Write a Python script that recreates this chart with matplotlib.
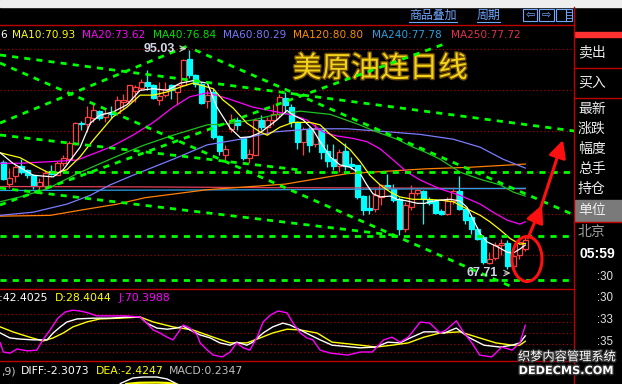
import matplotlib
matplotlib.use('Agg')
import matplotlib.pyplot as plt
import matplotlib.patheffects as pe
from matplotlib.patches import Rectangle, Ellipse, FancyArrowPatch
import numpy as np

# daily candles (index 0 = leftmost)
opens = [81.0, 78.3, 79.3, 80.6, 80.0, 79.4, 78.1, 78.1, 79.9, 79.4,
         80.9, 81.4, 83.3, 85.9, 85.8, 86.5, 87.4, 86.7, 87.2, 87.2,
         88.6, 88.7, 89.9, 90.3, 91.0, 90.7, 88.8, 89.4, 90.7, 89.8,
         90.7, 93.9, 91.9, 90.8, 88.7, 89.8, 84.3, 81.9, 85.2, 86.3,
         84.0, 81.5, 81.9, 86.3, 85.4, 86.3, 87.0, 89.0, 87.9, 86.0,
         83.5, 85.2, 83.3, 85.0, 82.4, 81.4, 80.5, 82.4, 80.8, 80.7,
         76.8, 75.3, 75.2, 76.7, 78.2, 77.7, 76.4, 72.7, 75.4, 77.2,
         77.4, 76.4, 76.2, 74.9, 74.6, 76.2, 77.4, 75.2, 74.2, 72.7,
         71.7, 68.5, 69.1, 70.7, 70.9, 68.1, 69.4, 70.2]
highs = [81.3, 80.3, 80.7, 81.4, 80.2, 79.6, 79.0, 80.0, 80.7, 81.2,
         81.9, 83.7, 86.0, 86.2, 88.0, 88.3, 87.5, 87.8, 88.0, 89.3,
         89.5, 90.7, 90.7, 91.4, 92.5, 90.8, 91.0, 91.0, 90.8, 90.8,
         93.9, 95.03, 92.0, 91.0, 90.0, 90.2, 84.4, 83.2, 87.0, 86.7,
         84.2, 82.7, 86.5, 86.9, 86.7, 88.3, 89.5, 89.8, 88.3, 86.2,
         85.4, 85.4, 85.8, 85.2, 83.3, 83.3, 82.7, 83.4, 81.7, 80.7,
         77.0, 76.9, 77.7, 78.3, 79.6, 78.3, 76.7, 76.1, 78.2, 77.7,
         77.6, 76.7, 76.4, 75.2, 76.7, 77.7, 79.3, 75.2, 74.4, 73.0,
         71.9, 69.8, 71.1, 71.4, 71.3, 69.6, 71.9, 72.0]
lows = [78.8, 77.8, 78.6, 79.6, 79.1, 77.7, 77.3, 77.7, 79.4, 79.4,
        80.5, 81.3, 83.2, 85.0, 84.8, 86.0, 86.3, 86.1, 86.5, 86.9,
        87.7, 88.3, 88.5, 90.0, 90.1, 88.9, 88.2, 89.2, 88.9, 88.2,
        90.7, 91.6, 90.4, 88.3, 87.8, 83.9, 81.9, 81.3, 84.8, 85.0,
        81.3, 80.9, 81.9, 85.0, 84.4, 85.7, 86.7, 87.0, 85.4, 82.7,
        81.9, 82.3, 82.9, 81.4, 80.4, 80.0, 79.8, 80.0, 80.2, 76.4,
        74.4, 74.6, 74.8, 75.7, 77.6, 76.1, 71.9, 72.3, 75.1, 76.9,
        73.3, 75.7, 74.6, 74.4, 74.4, 75.8, 75.1, 73.3, 72.1, 71.3,
        68.3, 68.3, 68.8, 69.4, 67.71, 67.9, 69.0, 70.0]
closes = [78.9, 79.0, 80.4, 79.8, 79.4, 78.1, 78.6, 79.7, 79.5, 80.9,
          81.5, 83.4, 85.9, 85.8, 86.7, 87.5, 86.5, 87.2, 87.1, 88.8,
          88.8, 90.7, 90.4, 91.0, 90.5, 89.0, 89.3, 90.2, 90.0, 90.7,
          93.8, 91.9, 90.8, 88.4, 89.4, 84.2, 82.4, 82.7, 86.3, 85.7,
          81.5, 82.0, 86.3, 85.4, 86.3, 87.0, 89.2, 88.2, 86.0, 83.5,
          85.2, 83.2, 85.2, 82.3, 81.2, 80.5, 82.3, 80.5, 80.5, 76.7,
          75.1, 75.1, 76.9, 78.2, 77.8, 76.3, 72.7, 75.7, 77.2, 77.6,
          76.4, 75.9, 74.7, 74.6, 76.2, 77.4, 75.2, 73.8, 72.7, 71.5,
          68.6, 69.0, 70.7, 70.9, 68.1, 69.3, 71.1, 71.3]

# moving average lines, sampled along the picture (x = candle index)
ma5_x = [-0.5, 1.6, 5.0, 8.3, 10.0, 12.8, 14.5, 16.1, 18.3, 20.6, 22.8, 25.0, 27.3,
         29.5, 31.6, 34.0, 35.6, 37.8, 39.5, 41.1, 42.8, 45.6, 47.3, 48.3, 50.0, 51.6,
         52.8, 54.5, 56.1, 57.8, 59.5, 60.6, 61.6, 62.8, 64.5, 65.6, 67.3, 69.0, 70.3,
         71.1, 72.8, 74.5, 76.1, 77.3, 78.3, 79.5, 80.6, 82.3, 84.0, 85.0, 86.1, 87.0]
ma5_y = [82.2, 80.9, 79.4, 79.2, 80.1, 82.9, 85.9, 86.9, 87.3, 88.2, 90.0, 90.2, 90.0,
         90.9, 91.2, 90.9, 87.9, 85.3, 84.1, 84.2, 84.7, 86.3, 87.5, 86.9, 86.3, 85.1,
         83.6, 81.7, 80.7, 80.4, 79.6, 78.2, 77.1, 76.7, 76.8, 76.4, 76.2, 75.9, 75.9,
         76.1, 76.3, 76.4, 76.2, 75.4, 73.9, 72.1, 71.1, 70.5, 69.8, 69.7, 70.2, 70.7]
ma10_x = [-0.5, 2.8, 5.0, 7.3, 9.0, 10.6, 12.8, 15.0, 18.3, 20.6, 22.8, 25.0, 27.3,
          29.5, 31.6, 35.0, 36.6, 38.3, 40.6, 42.8, 44.0, 46.1, 48.3, 51.1, 52.8, 54.5,
          56.1, 57.8, 59.5, 61.1, 62.8, 64.5, 66.1, 68.3, 70.3, 72.8, 75.0, 77.3, 79.5,
          81.1, 82.8, 84.5, 86.1, 87.0]
ma10_y = [82.2, 81.6, 80.7, 79.8, 79.7, 80.1, 81.7, 83.8, 86.7, 87.9, 89.4, 89.4, 89.8,
          90.4, 90.9, 90.2, 88.8, 87.8, 85.9, 84.8, 84.4, 85.4, 86.0, 86.0, 85.7, 84.5,
          83.6, 82.6, 81.1, 79.4, 78.2, 77.3, 76.7, 76.4, 76.4, 76.3, 76.1, 75.2, 74.4,
          73.6, 72.6, 71.5, 70.8, 70.9]
ma20_x = [-0.5, 2.8, 7.8, 12.3, 17.8, 21.6, 25.0, 28.3, 31.1, 34.0, 37.3, 41.6, 45.6,
          48.3, 50.6, 53.3, 55.6, 58.3, 60.6, 62.8, 65.0, 67.3, 69.5, 72.8, 76.1, 79.5,
          81.6, 84.0, 86.1, 87.0]
ma20_y = [80.9, 80.9, 81.1, 81.3, 82.9, 84.4, 86.0, 87.9, 89.2, 89.7, 89.0, 87.9, 87.3,
          86.9, 86.3, 84.8, 84.3, 84.0, 83.6, 82.7, 81.3, 79.8, 78.8, 77.7, 76.9, 75.8,
          74.8, 73.8, 73.3, 73.6]
ma40_x = [-0.5, 2.8, 7.3, 12.3, 17.8, 21.6, 23.6, 28.3, 34.0, 37.3, 41.6, 45.0, 49.5,
          54.5, 59.0, 62.3, 65.6, 68.3, 70.3, 72.8, 76.1, 79.5, 82.8, 85.0, 87.0]
ma40_y = [76.1, 76.7, 77.7, 79.6, 81.4, 82.6, 83.2, 84.4, 85.7, 85.8, 86.3, 86.9, 87.4,
          87.0, 85.8, 84.8, 83.9, 82.9, 82.3, 81.4, 79.8, 78.9, 78.2, 77.3, 76.8]
ma60_x = [-0.5, 5.0, 10.6, 14.5, 17.8, 21.6, 28.3, 34.0, 39.5, 45.0, 51.6, 57.3, 62.8,
          69.5, 75.0, 79.5, 83.3, 87.0]
ma60_y = [74.4, 74.8, 75.8, 76.9, 78.2, 79.4, 81.4, 83.2, 83.9, 84.8, 85.2, 85.2, 84.9,
          84.5, 83.9, 82.9, 81.4, 80.3]
ma120_x = [-0.5, 7.8, 13.3, 19.0, 23.6, 34.0, 47.0, 57.3, 70.3, 77.8, 87.0]
ma120_y = [74.3, 74.4, 75.1, 75.8, 76.6, 77.6, 78.3, 79.6, 80.2, 80.4, 80.8]
ma240_x = [-0.5, 23.6, 46.1, 70.3, 87.0]
ma240_y = [77.5, 77.55, 77.6, 77.7, 77.78]
ma250_x = [-0.5, 23.6, 46.1, 70.3, 87.0]
ma250_y = [78.0, 77.95, 77.85, 77.8, 77.72]

ma_legend = ['MA10:70.93', 'MA20:73.62', 'MA40:76.84', 'MA60:80.29',
             'MA120:80.80', 'MA240:77.78', 'MA250:77.72']

# KDJ
k_x = [-0.5, 1.1, 2.8, 5.0, 7.3, 8.3, 9.5, 10.6, 12.3, 15.0, 17.8, 20.6, 22.8, 23.9,
       25.6, 27.3, 28.9, 30.0, 31.1, 32.8, 34.5, 36.1, 37.8, 38.9, 40.6, 41.6, 43.3,
       44.9, 46.6, 47.8, 49.5, 51.1, 52.8, 54.8, 59.5, 62.1, 64.1, 66.1, 68.1, 70.1,
       72.1, 73.5, 75.5, 77.5, 80.1, 82.8, 84.8, 86.1, 87.0]
k_v = [50, 37, 34, 32, 32, 50, 66, 79, 87, 89, 89, 92, 92, 76, 63, 60, 63, 68, 58, 45,
       37, 24, 18, 26, 18, 26, 50, 66, 76, 71, 58, 45, 32, 18, 11, 13, 26, 24, 39, 53,
       53, 50, 63, 39, 18, 13, 18, 24, 42.4]
d_x = [-0.5, 1.6, 4.4, 6.6, 8.3, 10.0, 11.6, 13.9, 16.1, 19.4, 22.8, 25.0, 28.3, 31.6,
       35.0, 37.8, 40.6, 42.8, 44.9, 47.3, 49.5, 52.3, 54.8, 59.5, 62.1, 64.8, 67.5,
       70.1, 72.8, 76.1, 79.4, 82.1, 84.8, 86.1, 87.0]
d_v = [66, 53, 39, 29, 37, 50, 66, 79, 87, 89, 92, 79, 66, 58, 39, 24, 24, 37, 50, 60,
       58, 50, 26, 18, 13, 18, 24, 39, 50, 53, 37, 24, 18, 18, 28.4]
j_x = [-0.5, 0.0, 1.1, 2.3, 4.0, 5.6, 6.6, 7.8, 9.1, 10.3, 11.5, 12.8, 14.1, 15.6,
       17.8, 20.3, 22.8, 23.9, 25.0, 26.1, 27.3, 28.3, 29.1, 30.0, 31.1, 32.3, 32.8,
       34.0, 35.0, 36.5, 37.8, 38.9, 40.0, 41.1, 42.3, 43.3, 44.5, 45.8, 47.3, 48.3,
       49.5, 50.6, 51.6, 52.8, 54.5, 57.4, 59.5, 61.5, 63.4, 64.8, 66.1, 67.5, 69.5,
       71.1, 72.8, 73.8, 75.5, 76.8, 78.1, 79.4, 81.4, 83.1, 84.8, 86.1, 87.0]
j_v = [24, 0, -3, 8, 3, 5, 32, 58, 89, 105, 110, 108, 103, 95, 95, 95, 92, 76, 58, 50,
       39, 32, 50, 71, 63, 45, 24, 5, -8, -13, 0, 24, 11, 5, 39, 79, 97, 108, 103, 76,
       50, 37, 32, 5, -3, -8, 0, 0, 32, 39, 26, 39, 79, 76, 50, 58, 82, 50, 24, -8,
       -13, 13, 5, 24, 70.4]
kdj_levels = [100, 80, 50, 20, 0]

# MACD tops just visible at the bottom edge
diff_x = [19.5, 21.6, 23.3, 25.6, 27.3, 28.8]
diff_v = [0.5, 6.0, 7.0, 7.0, 5.0, 0.5]
dea_x = [20.5, 22.5, 25.6, 27.3, 29.0]
dea_v = [0.0, 1.2, 1.4, 1.1, -0.5]

price_grid = [95.1, 90.0, 84.9, 79.8, 74.6, 69.4]

# hand-drawn trend lines (x0, p0, x1, p1)
trend_lines = [(-0.55, 94.41, 95.12, 84.93),
               (-0.55, 85.92, 31.1, 95.65),
               (31.95, 95.03, 95.12, 74.45),
               (-0.55, 75.69, 73.95, 95.9),
               (-0.55, 93.41, 84.45, 65.59),
               (-0.55, 84.43, 49.45, 80.06),
               (-0.55, 77.81, 66.1, 71.83),
               (7.8, 79.81, 95.12, 79.81),
               (-0.55, 71.83, 95.12, 71.83),
               (-0.55, 66.34, 95.12, 66.34)]

panel_labels = ['卖出', '买入', '最新', '涨跌', '幅度', '总手', '持仓', '单位', '北京']
panel_label_y = [52, 83, 109, 129, 149, 169, 189, 210, 232]

W, H = 622, 384
RED = '#c00000'
DOT = '#a00000'
UP = '#ff4040'
DOWN = '#00ffff'
CJK = ['Noto Sans CJK SC', 'DejaVu Sans']


def box(x0, y0, x1, y1):
    return [x0 / W, 1 - y1 / H, (x1 - x0) / W, (y1 - y0) / H]


fig = plt.figure(figsize=(6.22, 3.84), dpi=100, facecolor='black')

bg = fig.add_axes([0, 0, 1, 1])
bg.set_xlim(0, W)
bg.set_ylim(H, 0)
bg.axis('off')

bg.add_patch(Rectangle((0, 0), W, 6.5, color='#eeeeee', zorder=1))
bg.plot([0, 574], [25, 25], color=RED, lw=1)
bg.plot([0, 574], [289, 289], color=RED, lw=1)
bg.plot([0, 574], [360.5, 360.5], color=RED, lw=1)
bg.plot([573.5, 573.5], [7, H], color=RED, lw=1)

# toolbar
bg.text(409, 15.5, '商品叠加', family=CJK, fontsize=8.6, color='#70a8ff', va='center')
bg.plot([409, 457], [21.5, 21.5], color='#70a8ff', lw=0.8)
bg.text(477, 15.5, '周期', family=CJK, fontsize=8.6, color='#70a8ff', va='center')
bg.plot([477, 500], [21.5, 21.5], color='#70a8ff', lw=0.8)
for bx0, bx1 in [(523, 537), (539, 554), (556, 572)]:
    bg.add_patch(Rectangle((bx0, 9), bx1 - bx0, 12, fill=False, ec='#70a8ff', lw=0.8))
bg.text(530, 15, '⇦', fontsize=8, color='#70a8ff', ha='center', va='center')
bg.text(546.5, 15, '⇨', fontsize=8, color='#70a8ff', ha='center', va='center')
bg.plot([566, 566], [9, 21], color='#70a8ff', lw=0.8)
for yy in [12, 15, 18]:
    bg.plot([566, 571], [yy, yy], color='#70a8ff', lw=0.6)

# MA legend
bg.text(0, 35, '6', fontsize=7.6, color='white', va='center')
legend_x = [11.7, 82, 153, 223, 293, 372, 451]
legend_c = ['#ffff00', '#ff00ff', '#00e000', '#7878ff', '#ff8c00', '#28a0e0', '#e03050']
for lx, lt, lc in zip(legend_x, ma_legend, legend_c):
    bg.text(lx, 35, lt, fontsize=7.6, color=lc, va='center')

bg.text(380, 69, '美原油连日线', family=CJK, fontsize=21, color='#f3d21c',
        ha='center', va='center',
        path_effects=[pe.withStroke(linewidth=2, foreground='#6b4a00')])

# right panel
bg.add_patch(Rectangle((575, 32), 47, 5, color='#ff3030'))
for yy in [68, 98, 221.5]:
    bg.plot([574, W], [yy, yy], color=RED, lw=1)
bg.add_patch(Rectangle((574.5, 200), 47.5, 21, color='#7a7a7a'))
for lab, ly in zip(panel_labels, panel_label_y):
    col = '#a0a0a0' if lab == '北京' else '#ececec'
    bg.text(578, ly, lab, family=CJK, fontsize=10, color=col, va='center')
bg.text(579, 254, '05:59', family='Liberation Sans', fontsize=10, fontweight='bold',
        color='white', va='center')
for lab, ly in [(':30', 277), (':30', 298), (':33', 320), (':35', 342)]:
    bg.text(613, ly, lab, family='Liberation Sans', fontsize=8.3, color='#e0e0e0',
            ha='right', va='center')

# KDJ / MACD legends
bg.text(-7, 298, 'K:42.4025', fontsize=7.8, color='white', va='center')
bg.text(55, 298, 'D:28.4044', fontsize=7.8, color='#ffff00', va='center')
bg.text(118, 298, 'J:70.3988', fontsize=7.8, color='#ff00ff', va='center')
bg.text(1, 371, ',9)', fontsize=7.8, color='#c8c8c8', va='center')
bg.text(20.7, 371, 'DIFF:-2.3073', fontsize=7.8, color='white', va='center')
bg.text(95.7, 371, 'DEA:-2.4247', fontsize=7.8, color='#ffff00', va='center')
bg.text(169, 371, 'MACD:0.2347', fontsize=7.8, color='#c0c0c0', va='center')

# main price panel
ax = fig.add_axes(box(0, 42, 574, 289))
ax.set_xlim(-0.55, 95.12)
ax.set_ylim(65.21, 96.03)
ax.axis('off')
for p in price_grid:
    ax.axhline(p, color=DOT, lw=0.9, ls=(0, (1, 2)), zorder=1)

for i, (o, h, l, c) in enumerate(zip(opens, highs, lows, closes)):
    up = c >= o
    col = UP if up else DOWN
    ax.vlines(i, l, h, color=col, lw=0.9, zorder=2)
    ax.add_patch(Rectangle((i - 0.38, min(o, c)), 0.76, max(abs(c - o), 0.08),
                           facecolor='black' if up else col, edgecolor=col,
                           lw=0.9, zorder=2.5))

ma_sets = [(ma250_x, ma250_y, '#e8405a'), (ma240_x, ma240_y, '#2aa0e8'),
           (ma120_x, ma120_y, '#ff8000'), (ma60_x, ma60_y, '#7b7bff'),
           (ma40_x, ma40_y, '#20c020'), (ma20_x, ma20_y, '#ff00ff'),
           (ma10_x, ma10_y, '#ffff00'), (ma5_x, ma5_y, '#ffffff')]
for mx_, my_, mc in ma_sets:
    ax.plot(mx_, my_, color=mc, lw=0.9, zorder=3)

for x0, y0, x1, y1 in trend_lines:
    ax.plot([x0, x1], [y0, y1], color='#00ff00', lw=2.0, ls=(0, (2.2, 2.2)),
            dash_capstyle='butt', zorder=4)

ax.text(28.7, 95.2, '95.03', family='Liberation Sans', fontsize=9, fontweight='bold',
        color='#d0d8e8', ha='right', va='center', zorder=5)
ax.annotate('', xy=(31.0, 95.2), xytext=(29.0, 95.2),
            arrowprops=dict(arrowstyle='->', color='#d0d0d0', lw=0.8), zorder=5)
ax.text(82.45, 67.2, '67.71', family='Liberation Sans', fontsize=9, fontweight='bold',
        color='#d0d8e8', ha='right', va='center', zorder=5)
ax.annotate('', xy=(85.0, 67.2), xytext=(83.1, 67.2),
            arrowprops=dict(arrowstyle='->', color='#d0d0d0', lw=0.8), zorder=5)

# KDJ panel
kx = fig.add_axes(box(0, 290, 574, 360))
kx.set_xlim(-0.55, 95.12)
kx.set_ylim(-21.0, 163.1)
kx.axis('off')
for lv in kdj_levels:
    kx.axhline(lv, color=DOT, lw=0.9, ls=(0, (1, 2)), zorder=1)
kx.plot(d_x, d_v, color='#ffff00', lw=1.0, zorder=2)
kx.plot(k_x, k_v, color='white', lw=1.0, zorder=3)
kx.plot(j_x, j_v, color='#ff00ff', lw=1.0, zorder=4)

# MACD panel (only the top of it shows)
mx = fig.add_axes(box(0, 361, 574, 384))
mx.set_xlim(-0.55, 95.12)
mx.set_ylim(0, 23)
mx.axis('off')
mx.plot(dea_x, dea_v, color='#ffff00', lw=1.6)
mx.plot(diff_x, diff_v, color='white', lw=1.0)

# red markup on top
ov = fig.add_axes([0, 0, 1, 1])
ov.set_xlim(0, W)
ov.set_ylim(H, 0)
ov.axis('off')
ov.add_patch(Ellipse((527, 259), 30, 45, fill=False, ec='#ff1010', lw=2.2))
for (xa, ya), (xb, yb) in [((528, 238), (542, 205)), ((541, 207), (563, 140))]:
    ov.add_patch(FancyArrowPatch((xa, ya), (xb, yb), arrowstyle='-|>',
                                 mutation_scale=26, color='#ff1010', lw=2.2,
                                 shrinkA=0, shrinkB=0))
ov.text(567, 357, '织梦内容管理系统', family=CJK, fontsize=8.8, color='white',
        ha='center', va='center',
        path_effects=[pe.withStroke(linewidth=2, foreground='#303030')])
ov.text(566, 371, 'DEDECMS.COM', fontsize=8.1, fontweight='bold', color='white',
        ha='center', va='center',
        path_effects=[pe.withStroke(linewidth=2, foreground='#303030')])

fig.savefig('out.png', dpi=100, facecolor='black')
